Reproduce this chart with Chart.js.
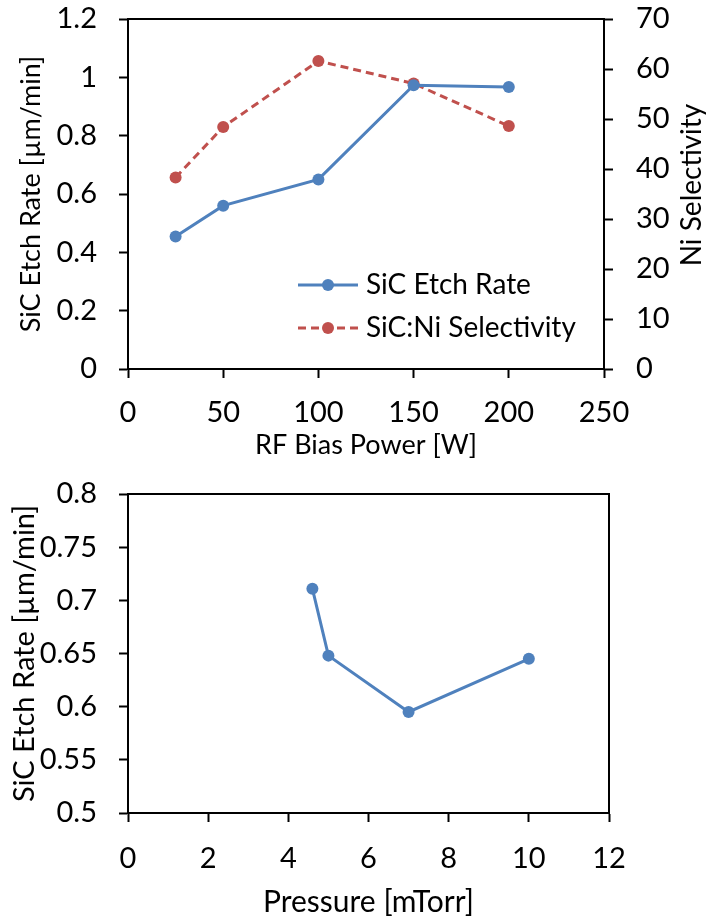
<!DOCTYPE html>
<html>
<head>
<meta charset="utf-8">
<script src="https://cdn.jsdelivr.net/npm/chart.js@4.4.0/dist/chart.umd.min.js"></script>
<style>
  html, body { margin: 0; padding: 0; background: #fff; }
  #wrap { position: relative; width: 712px; height: 920px; }
  canvas { position: absolute; left: 0; }
  #biasChart { top: 0; }
  #pressureChart { top: 460px; }
</style>
</head>
<body>
<div id="wrap">
  <canvas id="biasChart" width="712" height="460"></canvas>
  <canvas id="pressureChart" width="712" height="460"></canvas>
</div>
<script>
// top panel: RF bias power sweep
const biasPower = [25, 50, 100, 150, 200];
const etchRateByBias = [0.454, 0.56, 0.65, 0.973, 0.967];
const selectivityByBias = [38.3, 48.4, 61.6, 57.1, 48.6];
const biasAxis = { min: 0, max: 250, step: 50 };
const rateAxisTop = { min: 0, max: 1.2, step: 0.2 };
const selAxis = { min: 0, max: 70, step: 10 };

// bottom panel: pressure sweep
const pressure = [4.6, 5, 7, 10];
const etchRateByPressure = [0.711, 0.648, 0.595, 0.645];
const pressureAxis = { min: 0, max: 12, step: 2 };
const rateAxisBottom = { min: 0.5, max: 0.8, step: 0.05 };

const BLUE = "#4f81bd";
const RED = "#c0504d";
const FONT = 'Lato, "Liberation Sans", sans-serif';

Chart.defaults.font.family = FONT;
Chart.defaults.font.size = 29;
Chart.defaults.color = "#000";

const toPoints = (xs, ys) => xs.map((x, i) => ({ x, y: ys[i] }));
const fmt = (v) => String(+Number(v).toFixed(2));

const frameBox = {
  id: "frameBox",
  beforeDatasetsDraw(chart) {
    const { ctx, chartArea: a } = chart;
    ctx.save();
    ctx.strokeStyle = "#000";
    ctx.lineWidth = 2;
    ctx.strokeRect(a.left, a.top, a.right - a.left, a.bottom - a.top);
    ctx.restore();
  },
};

const insideLegend = {
  id: "insideLegend",
  afterDraw(chart) {
    const { ctx } = chart;
    chart.data.datasets.forEach((ds, i) => {
      const y = 285 + i * 43;
      ctx.save();
      ctx.strokeStyle = ds.borderColor;
      ctx.lineWidth = ds.borderWidth;
      ctx.setLineDash(ds.borderDash || []);
      ctx.beginPath();
      ctx.moveTo(298, y);
      ctx.lineTo(358, y);
      ctx.stroke();
      ctx.setLineDash([]);
      ctx.fillStyle = ds.pointBackgroundColor;
      ctx.beginPath();
      ctx.arc(328, y, 6, 0, Math.PI * 2);
      ctx.fill();
      ctx.fillStyle = "#000";
      ctx.font = "28px " + FONT;
      ctx.textBaseline = "middle";
      ctx.fillText(ds.label, 366, y);
      ctx.restore();
    });
  },
};

// Chart.js turns right-hand titles the other way, so draw this one by hand
const rightTitle = {
  id: "rightTitle",
  afterDraw(chart) {
    const { ctx } = chart;
    ctx.save();
    ctx.translate(692, 185);
    ctx.rotate(-Math.PI / 2);
    ctx.fillStyle = "#000";
    ctx.font = "28px " + FONT;
    ctx.textAlign = "center";
    ctx.textBaseline = "middle";
    ctx.fillText("Ni Selectivity", 0, 0);
    ctx.restore();
  },
};

// fixed axis sizes so the plot box lands where the original one is
const fixWidth = (w) => (s) => { s.width = w; s.paddingTop = 0; s.paddingBottom = 0; };
const fixHeight = (h) => (s) => { s.height = h; };

function axisStyle(range, extra) {
  return Object.assign({
    type: "linear",
    min: range.min,
    max: range.max,
    grid: {
      drawOnChartArea: false,
      drawTicks: true,
      tickLength: 9,
      tickWidth: 2,
      tickColor: "#000",
    },
    border: { display: true, color: "#000", width: 2 },
  }, extra);
}

new Chart(document.getElementById("biasChart"), {
  type: "line",
  data: {
    datasets: [
      {
        label: "SiC Etch Rate",
        data: toPoints(biasPower, etchRateByBias),
        yAxisID: "y",
        borderColor: BLUE,
        backgroundColor: BLUE,
        pointBackgroundColor: BLUE,
        pointBorderColor: BLUE,
        borderWidth: 3,
        pointRadius: 6,
        pointBorderWidth: 0,
      },
      {
        label: "SiC:Ni Selectivity",
        data: toPoints(biasPower, selectivityByBias),
        yAxisID: "y1",
        borderColor: RED,
        backgroundColor: RED,
        pointBackgroundColor: RED,
        pointBorderColor: RED,
        borderWidth: 3,
        borderDash: [8, 5],
        pointRadius: 6,
        pointBorderWidth: 0,
      },
    ],
  },
  options: {
    responsive: false,
    animation: false,
    layout: { padding: { top: 19, left: 0, right: 0, bottom: 0 } },
    plugins: { legend: { display: false }, tooltip: { enabled: false } },
    scales: {
      x: axisStyle(biasAxis, {
        position: "bottom",
        afterFit: fixHeight(91),
        ticks: { stepSize: biasAxis.step, padding: 17, maxRotation: 0 },
        title: {
          display: true, text: "RF Bias Power [W]",
          font: { size: 27, lineHeight: 1 }, padding: { top: 0, bottom: 1 },
        },
      }),
      y: axisStyle(rateAxisTop, {
        position: "left",
        afterFit: fixWidth(128),
        ticks: { stepSize: rateAxisTop.step, callback: fmt, padding: 22 },
        title: {
          display: true, text: "SiC Etch Rate [µm/min]",
          font: { size: 27, lineHeight: 1 }, padding: { top: 18, bottom: 0 },
        },
      }),
      y1: axisStyle(selAxis, {
        position: "right",
        afterFit: fixWidth(108),
        ticks: { stepSize: selAxis.step, callback: fmt, padding: 23 },
      }),
    },
  },
  plugins: [frameBox, insideLegend, rightTitle],
});

new Chart(document.getElementById("pressureChart"), {
  type: "line",
  data: {
    datasets: [
      {
        label: "SiC Etch Rate",
        data: toPoints(pressure, etchRateByPressure),
        borderColor: BLUE,
        backgroundColor: BLUE,
        pointBackgroundColor: BLUE,
        pointBorderColor: BLUE,
        borderWidth: 3,
        pointRadius: 6,
        pointBorderWidth: 0,
      },
    ],
  },
  options: {
    responsive: false,
    animation: false,
    layout: { padding: { top: 34, left: 0, right: 103, bottom: 0 } },
    plugins: { legend: { display: false }, tooltip: { enabled: false } },
    scales: {
      x: axisStyle(pressureAxis, {
        position: "bottom",
        afterFit: fixHeight(107),
        ticks: { stepSize: pressureAxis.step, padding: 19, maxRotation: 0 },
        title: {
          display: true, text: "Pressure [mTorr]",
          font: { size: 30, lineHeight: 1 }, padding: { top: 0, bottom: 2.5 },
        },
      }),
      y: axisStyle(rateAxisBottom, {
        position: "left",
        afterFit: fixWidth(128),
        ticks: { stepSize: rateAxisBottom.step, callback: fmt, padding: 22 },
        title: {
          display: true, text: "SiC Etch Rate [µm/min]",
          font: { size: 29, lineHeight: 1 }, padding: { top: 10, bottom: 0 },
        },
      }),
    },
  },
  plugins: [frameBox],
});
</script>
</body>
</html>
